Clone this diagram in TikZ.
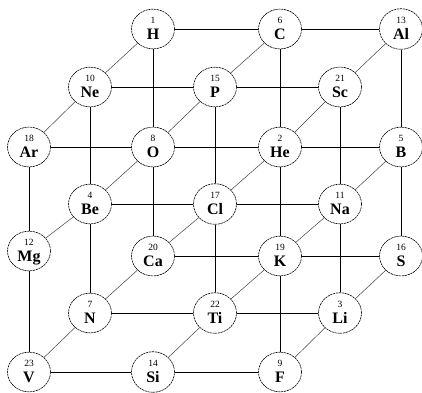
\documentclass[tikz,border=0pt]{standalone}
\usepackage{fontspec}
\setmainfont{Liberation Serif}
\usetikzlibrary{shapes.geometric}
\tikzset{
  elem/.style={ellipse, draw, fill=white, line width=0.6pt, dash pattern=on 2.2pt off 0.7pt,
    minimum width=43pt, minimum height=38pt, inner sep=0pt},
  ortho/.style={line width=0.9pt, black},
  diag/.style={line width=0.5pt, black!75},
}
\newcommand{\el}[2]{\begin{tabular}{@{}c@{}}{\fontsize{9.5}{10}\selectfont #1}\\[2pt]{\fontsize{16}{16}\selectfont\bfseries #2}\end{tabular}}
\begin{document}
\begin{tikzpicture}[x=1pt,y=-1pt]
\useasboundingbox (0,0) rectangle (422,392);
% nodes
\node[elem] (H)  at (153,29)  {\el{1}{H}};
\node[elem] (C)  at (280,29)  {\el{6}{C}};
\node[elem] (Al) at (401,29)  {\el{13}{Al}};
\node[elem] (Ne) at (90,87)   {\el{10}{Ne}};
\node[elem] (P)  at (215,87)  {\el{15}{P}};
\node[elem] (Sc) at (340,87)  {\el{21}{Sc}};
\node[elem] (Ar) at (29,147)  {\el{18}{Ar}};
\node[elem] (O)  at (153,147) {\el{8}{O}};
\node[elem] (He) at (280,147) {\el{2}{He}};
\node[elem] (B)  at (401,147) {\el{5}{B}};
\node[elem] (Be) at (90,204)  {\el{4}{Be}};
\node[elem] (Cl) at (215,204) {\el{17}{Cl}};
\node[elem] (Na) at (340,204) {\el{11}{Na}};
\node[elem] (Mg) at (29,251)  {\el{12}{Mg}};
\node[elem] (Ca) at (153,256) {\el{20}{Ca}};
\node[elem] (K)  at (280,256) {\el{19}{K}};
\node[elem] (S)  at (401,256) {\el{16}{S}};
\node[elem] (N)  at (90,313)  {\el{7}{N}};
\node[elem] (Ti) at (215,313) {\el{22}{Ti}};
\node[elem] (Li) at (340,313) {\el{3}{Li}};
\node[elem] (V)  at (29,372)  {\el{23}{V}};
\node[elem] (Si) at (153,372) {\el{14}{Si}};
\node[elem] (F)  at (280,372) {\el{9}{F}};
% orthogonal
\draw[ortho] (H) -- (C); \draw[ortho] (C) -- (Al);
\draw[ortho] (Ne) -- (P); \draw[ortho] (P) -- (Sc);
\draw[ortho] (Ar) -- (O); \draw[ortho] (O) -- (He); \draw[ortho] (He) -- (B);
\draw[ortho] (Be) -- (Cl); \draw[ortho] (Cl) -- (Na);
\draw[ortho] (Ca) -- (K); \draw[ortho] (K) -- (S);
\draw[ortho] (N) -- (Ti); \draw[ortho] (Ti) -- (Li);
\draw[ortho] (V) -- (Si); \draw[ortho] (Si) -- (F);
\draw[ortho] (Ar) -- (Mg); \draw[ortho] (Mg) -- (V);
\draw[ortho] (Ne) -- (Be); \draw[ortho] (Be) -- (N);
\draw[ortho] (H) -- (O); \draw[ortho] (O) -- (Ca);
\draw[ortho] (P) -- (Cl); \draw[ortho] (Cl) -- (Ti);
\draw[ortho] (C) -- (He); \draw[ortho] (He) -- (K); \draw[ortho] (K) -- (F);
\draw[ortho] (Sc) -- (Na); \draw[ortho] (Na) -- (Li);
\draw[ortho] (Al) -- (B); \draw[ortho] (B) -- (S);
% diagonals
\draw[diag] (H) -- (Ne); \draw[diag] (Ne) -- (Ar);
\draw[diag] (C) -- (P); \draw[diag] (P) -- (O); \draw[diag] (O) -- (Be); \draw[diag] (Be) -- (Mg);
\draw[diag] (Al) -- (Sc); \draw[diag] (Sc) -- (He); \draw[diag] (He) -- (Cl); \draw[diag] (Cl) -- (Ca); \draw[diag] (Ca) -- (N); \draw[diag] (N) -- (V);
\draw[diag] (B) -- (Na); \draw[diag] (Na) -- (K); \draw[diag] (K) -- (Ti); \draw[diag] (Ti) -- (Si);
\draw[diag] (S) -- (Li); \draw[diag] (Li) -- (F);
\end{tikzpicture}
\end{document}
